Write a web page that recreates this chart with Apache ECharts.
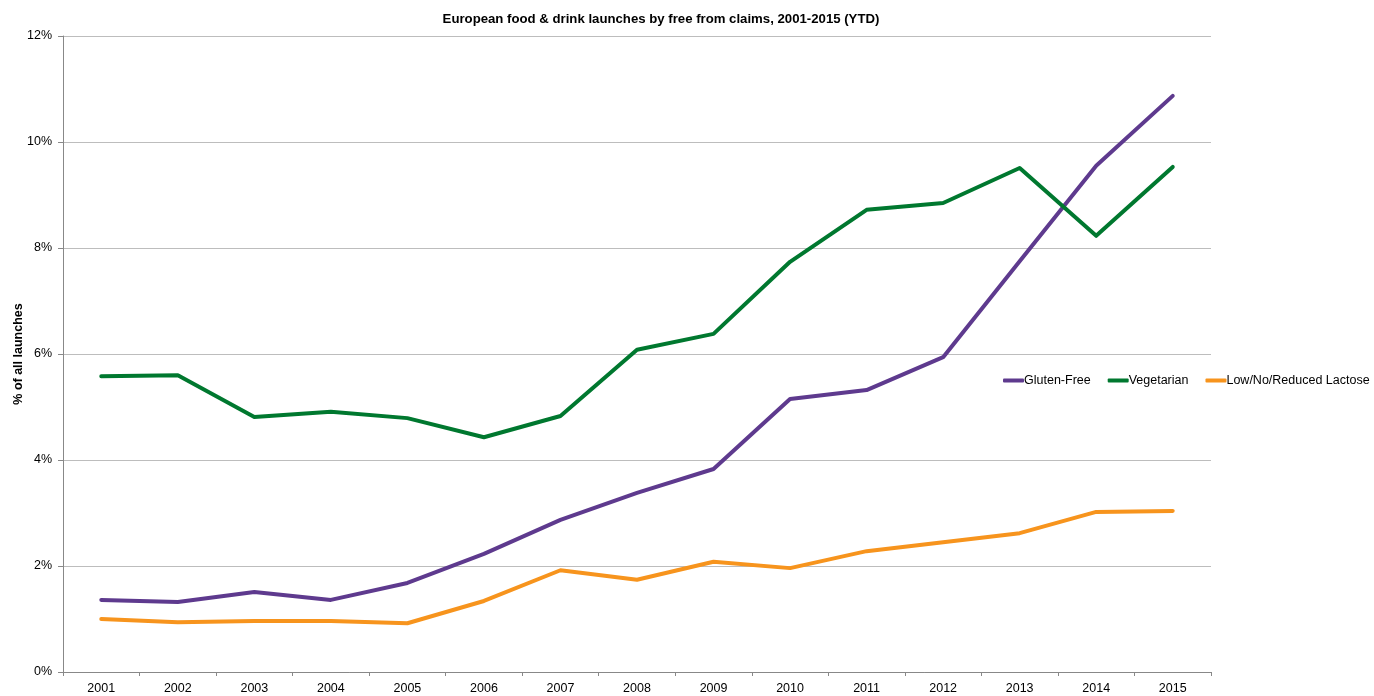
<!DOCTYPE html>
<html><head><meta charset="utf-8">
<script src="https://cdn.jsdelivr.net/npm/echarts@6/dist/echarts.min.js"></script>
<style>html,body{margin:0;padding:0;background:#fff}#c{width:1374px;height:696px}</style>
</head><body><div id="c"></div>
<script>
const years = ['2001','2002','2003','2004','2005','2006','2007','2008','2009','2010','2011','2012','2013','2014','2015'];
const glutenFree = [1.36,1.32,1.51,1.36,1.68,2.23,2.87,3.38,3.83,5.15,5.32,5.94,7.75,9.55,10.87];
const vegetarian = [5.58,5.60,4.81,4.91,4.79,4.43,4.83,6.08,6.38,7.74,8.72,8.85,9.51,8.23,9.53];
const lactose = [1.00,0.94,0.96,0.96,0.92,1.34,1.92,1.74,2.08,1.96,2.28,2.45,2.62,3.02,3.04];
const names = ['Gluten-Free','Vegetarian','Low/No/Reduced Lactose'];
const colors = ['#5E3A8E','#00782F','#F7941D'];
const font = 'Liberation Sans, Arial, sans-serif';
const fs = 12.5;
const chart = echarts.init(document.getElementById('c'));
const mk = (n,d,c)=>({name:n,type:'line',data:d,symbol:'none',smooth:false,
  lineStyle:{width:4,color:c,cap:'round',join:'round'},itemStyle:{color:c}});
chart.setOption({
  animation:false,
  textStyle:{fontFamily:font},
  title:{text:'European food & drink launches by free from claims, 2001-2015 (YTD)',left:656,top:8,textAlign:'center',
    textStyle:{fontSize:13.2,fontWeight:'bold',color:'#000',fontFamily:font}},
  grid:{left:63,right:163,top:36,bottom:24,containLabel:false,outerBoundsMode:'none'},
  legend:{data:names,left:1003,top:374,width:370,orient:'horizontal',icon:'roundRect',itemWidth:21,itemHeight:4,itemGap:17,padding:0,
    textStyle:{fontSize:fs,color:'#000',fontFamily:font,padding:[0,0,0,-5]}},
  xAxis:{type:'category',data:years,boundaryGap:true,
    axisLine:{lineStyle:{color:'#888',width:1}},
    axisTick:{show:true,length:4,lineStyle:{color:'#888'}},
    axisLabel:{fontSize:fs,color:'#000',margin:10,fontFamily:font}},
  yAxis:{type:'value',min:0,max:12,interval:2,name:'% of all launches',nameLocation:'middle',nameGap:38,nameMoveOverlap:false,
    nameTextStyle:{fontSize:fs,fontWeight:'bold',color:'#000',fontFamily:font},
    axisLine:{show:true,lineStyle:{color:'#888',width:1}},
    axisTick:{show:true,length:5,lineStyle:{color:'#888'}},
    axisLabel:{formatter:'{value}%',fontSize:fs,color:'#000',margin:11,fontFamily:font},
    splitLine:{lineStyle:{color:'#BDBDBD',width:1}}},
  series:[mk(names[0],glutenFree,colors[0]),mk(names[1],vegetarian,colors[1]),mk(names[2],lactose,colors[2])]
});
</script></body></html>
